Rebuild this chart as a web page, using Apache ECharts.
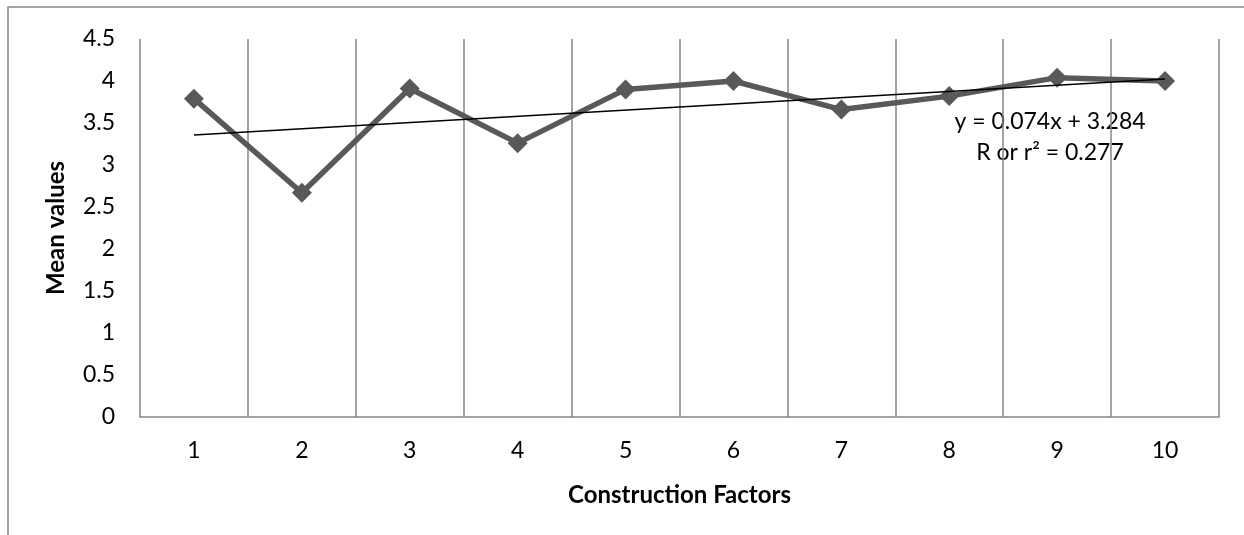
<!DOCTYPE html>
<html>
<head>
<meta charset="utf-8">
<script src="https://cdn.jsdelivr.net/npm/echarts@6/dist/echarts.min.js"></script>
<style>
html, body { margin: 0; padding: 0; background: #fff; }
#main { width: 1244px; height: 535px; }
</style>
</head>
<body>
<div id="main"></div>
<script>
// data
var factors = ['1', '2', '3', '4', '5', '6', '7', '8', '9', '10'];
var meanValues = [3.79, 2.67, 3.91, 3.26, 3.90, 4.00, 3.66, 3.82, 4.04, 4.00];
var yTicks = [0, 0.5, 1, 1.5, 2, 2.5, 3, 3.5, 4, 4.5];
// linear trend as printed on the chart
var trendSlope = 0.074;
var trendIntercept = 3.284;
var trendText = ['y = 0.074x + 3.284', 'R or r\u00b2 = 0.277'];

var dom = document.getElementById('main');
var myChart = echarts.init(dom);
var font = 'Lato';

var trendData = [1, factors.length].map(function (x) {
    return [x, trendSlope * x + trendIntercept];
});

option = {
    animation: false,
    backgroundColor: '#fff',
    textStyle: { fontFamily: font },
    grid: { left: 140, right: 25, top: 39, bottom: 118 },
    xAxis: [{
        type: 'category',
        data: factors,
        boundaryGap: true,
        name: 'Construction Factors',
        nameLocation: 'middle',
        nameGap: 66,
        nameTextStyle: { fontFamily: font, fontSize: 24, fontWeight: 'bold', color: '#000' },
        axisLine: { show: true, lineStyle: { color: '#868686', width: 1.5 } },
        axisTick: { show: false },
        axisLabel: { fontFamily: font, fontSize: 23, color: '#000', margin: 22 },
        splitLine: { show: true, lineStyle: { color: '#868686', width: 1.5 } }
    }, {
        type: 'value',
        min: 0.5,
        max: factors.length + 0.5,
        show: false
    }],
    yAxis: {
        type: 'value',
        min: yTicks[0],
        max: yTicks[yTicks.length - 1],
        interval: 0.5,
        name: 'Mean values',
        nameLocation: 'middle',
        nameGap: 72,
        nameTextStyle: { fontFamily: font, fontSize: 24, fontWeight: 'bold', color: '#000' },
        axisLine: { show: false },
        axisTick: { show: false },
        axisLabel: { fontFamily: font, fontSize: 23, color: '#000', margin: 25 },
        splitLine: { show: false }
    },
    graphic: [{
        type: 'rect',
        shape: { x: 8, y: 7, width: 1400, height: 700 },
        style: { fill: 'none', stroke: '#868686', lineWidth: 1.5 },
        silent: true
    }, {
        type: 'text',
        x: 1050,
        y: 106,
        style: {
            text: trendText.join('\n'),
            font: '23px ' + font,
            fill: '#000',
            align: 'center',
            lineHeight: 31
        }
    }],
    series: [{
        name: 'Mean values',
        type: 'line',
        data: meanValues,
        symbol: 'diamond',
        symbolSize: 20,
        lineStyle: { color: '#595959', width: 5.5 },
        itemStyle: { color: '#595959' },
        z: 2
    }, {
        name: 'Linear trend',
        type: 'line',
        xAxisIndex: 1,
        data: trendData,
        symbol: 'none',
        lineStyle: { color: '#000', width: 1.5 },
        z: 3
    }]
};
if (option && typeof option === 'object') {
    myChart.setOption(option, true);
}
</script>
</body>
</html>
